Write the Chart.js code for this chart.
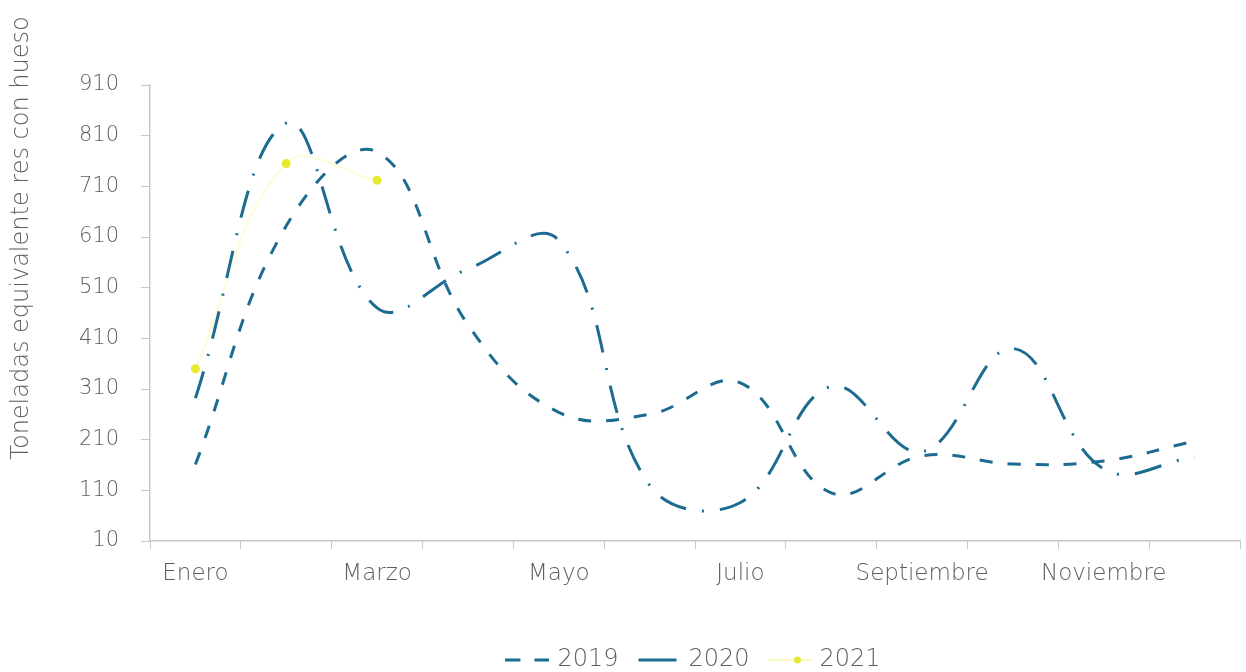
<!DOCTYPE html>
<html>
<head>
<meta charset="utf-8">
<script src="https://cdn.jsdelivr.net/npm/chart.js@4/dist/chart.umd.min.js"></script>
<style>
  html, body { margin: 0; padding: 0; background: #fff; }
  #wrap { width: 1246px; height: 672px; }
</style>
</head>
<body>
<div id="wrap"><canvas id="chart" width="1246" height="672"></canvas></div>
<script>
// data
const meses = ['Enero', 'Febrero', 'Marzo', 'Abril', 'Mayo', 'Junio',
               'Julio', 'Agosto', 'Septiembre', 'Octubre', 'Noviembre', 'Diciembre'];
const valores2019 = [161, 632, 778, 437, 264, 260, 322, 105, 178, 162, 168, 207];
const valores2020 = [292, 835, 470, 547, 603, 120, 86, 315, 186, 390, 152, 176];
const valores2021 = [350, 755, 722];
const yTicks = [10, 110, 210, 310, 410, 510, 610, 710, 810, 910];
const tituloY = 'Toneladas equivalente res con hueso';

const azul = '#1c6b90';
const amarillo = '#e6ea2e';
const gris = '#5f5f5f';
const fuenteY = { family: 'DejaVu Sans', size: 21, weight: '200' };
const fuenteX = { family: 'DejaVu Sans', size: 23, weight: '200' };
const fuenteLeyenda = { family: 'DejaVu Sans', size: 24, weight: '200' };

// little pictures for the legend samples
function sample(kind) {
  const c = document.createElement('canvas');
  c.width = 44; c.height = 12;
  const g = c.getContext('2d');
  g.lineWidth = 3;
  if (kind === 'dash') {
    g.strokeStyle = azul;
    g.setLineDash([15, 14]);
    g.beginPath(); g.moveTo(0, 6); g.lineTo(44, 6); g.stroke();
  } else if (kind === 'solid') {
    g.strokeStyle = azul;
    g.beginPath(); g.moveTo(2, 6); g.lineTo(40, 6); g.stroke();
  } else {
    g.strokeStyle = 'rgba(245,245,140,0.5)';
    g.lineWidth = 2;
    g.beginPath(); g.moveTo(0, 6); g.lineTo(44, 6); g.stroke();
    g.fillStyle = amarillo;
    g.beginPath(); g.arc(30, 6, 3.5, 0, Math.PI * 2); g.fill();
  }
  return c;
}
const legendPics = [sample('dash'), sample('solid'), sample('dot')];

// y axis title drawn at its place on the left
const tituloPlugin = {
  id: 'tituloY',
  afterDraw: function (chart) {
    const c = chart.ctx;
    c.save();
    c.translate(22, 238);
    c.rotate(-Math.PI / 2);
    c.font = '200 24px "DejaVu Sans"';
    c.fillStyle = gris;
    c.textAlign = 'center';
    c.textBaseline = 'middle';
    c.fillText(tituloY, 0, 0);
    c.restore();
  }
};

const ctx = document.getElementById('chart');

new Chart(ctx, {
  type: 'line',
  data: {
    labels: meses,
    datasets: [
      {
        label: '2019',
        data: valores2019,
        borderColor: azul,
        borderWidth: 3,
        borderDash: [13, 15],
        pointRadius: 0,
        tension: 0.4,
        fill: false
      },
      {
        label: '2020',
        data: valores2020,
        borderColor: azul,
        borderWidth: 3,
        borderDash: [28, 16, 2, 16],
        pointRadius: 0,
        tension: 0.4,
        fill: false
      },
      {
        label: '2021',
        data: valores2021,
        borderColor: 'rgba(248,248,150,0.4)',
        borderWidth: 2,
        pointRadius: 3.5,
        pointBackgroundColor: amarillo,
        pointBorderColor: amarillo,
        tension: 0.4,
        fill: false
      }
    ]
  },
  plugins: [tituloPlugin],
  options: {
    responsive: false,
    animation: false,
    layout: { padding: { top: 85, right: 3, left: 0, bottom: -10 } },
    plugins: {
      tooltip: { enabled: false },
      legend: {
        position: 'bottom',
        fullSize: false,
        labels: {
          color: gris,
          font: fuenteLeyenda,
          usePointStyle: true,
          pointStyleWidth: 36,
          padding: 22,
          generateLabels: function (chart) {
            return chart.data.datasets.map(function (ds, i) {
              return {
                text: ds.label,
                pointStyle: legendPics[i],
                fillStyle: 'transparent',
                strokeStyle: 'transparent',
                lineWidth: 0,
                fontColor: gris,
                hidden: false,
                datasetIndex: i
              };
            });
          }
        }
      }
    },
    scales: {
      x: {
        offset: true,
        grid: {
          display: true,
          offset: true,
          drawOnChartArea: false,
          tickLength: 8,
          color: '#c8c8c8'
        },
        border: { color: '#c8c8c8', width: 1.5 },
        ticks: {
          color: gris,
          font: fuenteX,
          autoSkip: false,
          maxRotation: 0,
          padding: 11,
          callback: function (v, i) { return i % 2 === 0 ? meses[i] : ''; }
        },
        afterFit: function (scale) { scale.height = 85; }
      },
      y: {
        min: 10,
        max: 910,
        afterBuildTicks: function (scale) {
          scale.ticks = yTicks.map(function (v) { return { value: v }; });
        },
        grid: {
          display: true,
          drawOnChartArea: false,
          tickLength: 9,
          color: '#c8c8c8'
        },
        border: { color: '#c8c8c8', width: 1.5 },
        ticks: {
          color: gris,
          font: fuenteY,
          padding: 22
        },
        afterFit: function (scale) { scale.width = 150; }
      }
    }
  }
});
</script>
</body>
</html>
